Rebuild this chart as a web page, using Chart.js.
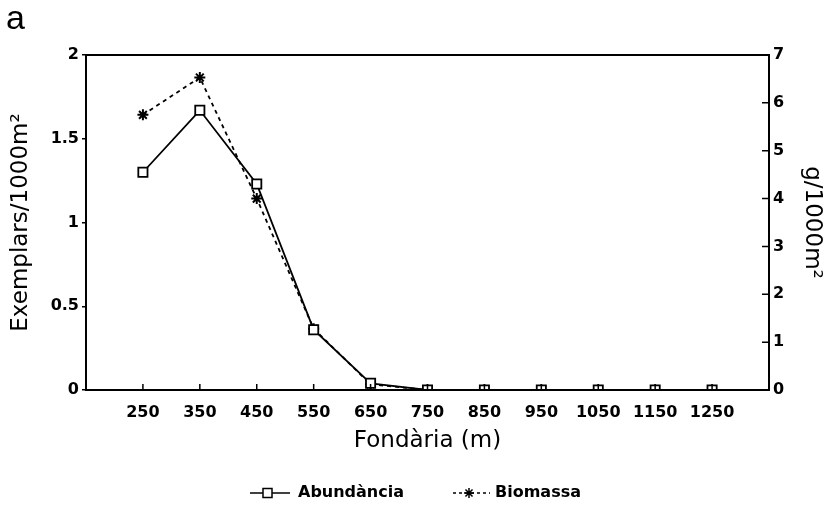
<!DOCTYPE html>
<html>
<head>
<meta charset="utf-8">
<script src="https://cdn.jsdelivr.net/npm/chart.js@4/dist/chart.umd.min.js"></script>
<style>
  html, body { margin: 0; padding: 0; background: #fff; }
</style>
</head>
<body>
<canvas id="chart1" width="836" height="508"></canvas>
<script>
// depths (m) and the two series
const depths = [250, 350, 450, 550, 650, 750, 850, 950, 1050, 1150, 1250];
const abundance = [1.30, 1.67, 1.23, 0.36, 0.04, 0, 0, 0, 0, 0, 0];
const biomass = [5.75, 6.53, 4.0, 1.28, 0.12, 0, 0, 0, 0, 0, 0];
const leftTicks = [0, 0.5, 1, 1.5, 2];
const rightTicks = [0, 1, 2, 3, 4, 5, 6, 7];

const tickFont = { family: "DejaVu Sans", size: 16, weight: "bold" };
const titleFont = { family: "DejaVu Sans", size: 23 };

// ticks pointing into the plot (bottom and right axes) + outer frame
const framePlugin = {
  id: "frame",
  afterDatasetsDraw(chart) {
    const { ctx, chartArea: a, scales } = chart;
    ctx.save();
    ctx.strokeStyle = "#000";
    ctx.lineWidth = 2;
    ctx.strokeRect(a.left, a.top, a.right - a.left, a.bottom - a.top);
    ctx.lineWidth = 1.5;
    ctx.beginPath();
    depths.forEach((d) => {
      const px = scales.x.getPixelForValue(d);
      ctx.moveTo(px, a.bottom);
      ctx.lineTo(px, a.bottom - 6);
    });
    rightTicks.forEach((v) => {
      const py = scales.y1.getPixelForValue(v);
      ctx.moveTo(a.right, py);
      ctx.lineTo(a.right - 7, py);
    });
    ctx.stroke();
    ctx.restore();
  },
  afterDraw(chart) {
    const { ctx } = chart;
    ctx.save();
    ctx.fillStyle = "#000";
    ctx.font = "34px 'Liberation Sans', Arial, sans-serif";
    ctx.textBaseline = "alphabetic";
    ctx.fillText("a", 6, 29);

    // legend
    const ly = 493;
    ctx.strokeStyle = "#000";
    ctx.lineWidth = 1.5;
    ctx.beginPath();
    ctx.moveTo(250, ly);
    ctx.lineTo(290, ly);
    ctx.stroke();
    ctx.fillStyle = "#fff";
    ctx.fillRect(263, ly - 4.5, 9, 9);
    ctx.strokeRect(263, ly - 4.5, 9, 9);

    ctx.setLineDash([3, 3]);
    ctx.beginPath();
    ctx.moveTo(453, ly);
    ctx.lineTo(490, ly);
    ctx.stroke();
    ctx.setLineDash([]);
    ctx.beginPath();
    const sx = 469, r = 5;
    ctx.moveTo(sx - r, ly); ctx.lineTo(sx + r, ly);
    ctx.moveTo(sx, ly - r); ctx.lineTo(sx, ly + r);
    const k = r * Math.SQRT1_2;
    ctx.moveTo(sx - k, ly - k); ctx.lineTo(sx + k, ly + k);
    ctx.moveTo(sx - k, ly + k); ctx.lineTo(sx + k, ly - k);
    ctx.stroke();

    ctx.fillStyle = "#000";
    ctx.font = "bold 16px 'DejaVu Sans'";
    ctx.textBaseline = "middle";
    ctx.fillText("Abundància", 298, ly);
    ctx.fillText("Biomassa", 495, ly);
    ctx.restore();
  },
};

const ctx1 = document.getElementById("chart1").getContext("2d");
const chart1 = new Chart(ctx1, {
  type: "line",
  data: {
    datasets: [
      {
        label: "Abundància",
        data: depths.map((d, i) => ({ x: d, y: abundance[i] })),
        yAxisID: "y",
        borderColor: "#000",
        borderWidth: 1.8,
        pointStyle: "rect",
        pointRadius: 6.5,
        pointBorderWidth: 1.8,
        pointBackgroundColor: "#fff",
        pointBorderColor: "#000",
        tension: 0,
      },
      {
        label: "Biomassa",
        data: depths.map((d, i) => ({ x: d, y: biomass[i] })),
        yAxisID: "y1",
        borderColor: "#000",
        borderWidth: 1.8,
        borderDash: [4, 4],
        pointStyle: "star",
        pointRadius: 5.5,
        pointBorderWidth: 2,
        pointBorderColor: "#000",
        tension: 0,
      },
    ],
  },
  options: {
    responsive: false,
    animation: false,
    layout: { padding: { top: 55, bottom: 53, left: 0, right: 0 } },
    plugins: {
      legend: { display: false },
      tooltip: { enabled: false },
    },
    scales: {
      x: {
        type: "linear",
        min: 150,
        max: 1350,
        afterBuildTicks: (scale) => {
          scale.ticks = depths.map((v) => ({ value: v }));
        },
        afterFit: (scale) => { scale.height = 65; },
        grid: { display: false, drawTicks: false },
        border: { color: "#000", width: 2 },
        ticks: {
          color: "#000",
          font: tickFont,
          padding: 13,
          maxRotation: 0,
          autoSkip: false,
          callback: (v) => String(v),
        },
        title: {
          display: true,
          text: "Fondària (m)",
          color: "#000",
          font: titleFont,
          padding: { top: 0, bottom: 0 },
        },
      },
      y: {
        position: "left",
        min: 0,
        max: 2,
        afterBuildTicks: (scale) => {
          scale.ticks = leftTicks.map((v) => ({ value: v }));
        },
        afterFit: (scale) => { scale.width = 86; },
        grid: { drawOnChartArea: false, drawTicks: true, tickLength: 4, color: "#000", lineWidth: 1.5 },
        border: { color: "#000", width: 2 },
        ticks: { color: "#000", font: tickFont, padding: 3, callback: (v) => String(v) },
        title: {
          display: true,
          text: "Exemplars/1000m²",
          color: "#000",
          font: titleFont,
          padding: { top: 7, bottom: 0 },
        },
      },
      y1: {
        position: "right",
        min: 0,
        max: 7,
        afterBuildTicks: (scale) => {
          scale.ticks = rightTicks.map((v) => ({ value: v }));
        },
        afterFit: (scale) => { scale.width = 67; },
        grid: { drawOnChartArea: false, drawTicks: false },
        border: { color: "#000", width: 2 },
        ticks: { color: "#000", font: tickFont, padding: 4, callback: (v) => String(v) },
        title: {
          display: true,
          text: "g/1000m²",
          color: "#000",
          font: titleFont,
          padding: { top: 10, bottom: 0 },
        },
      },
    },
  },
  plugins: [framePlugin],
});
</script>
</body>
</html>
